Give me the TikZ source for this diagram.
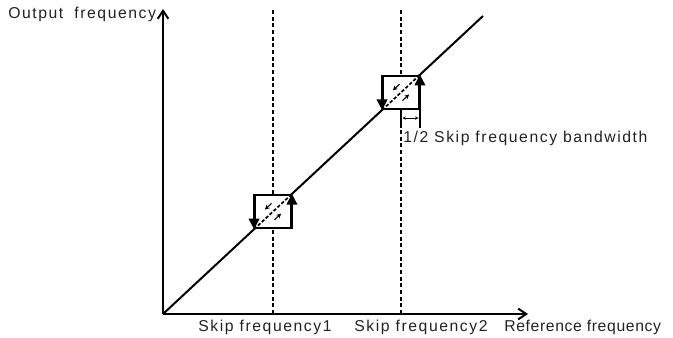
\documentclass[tikz,border=0pt]{standalone}
\usepackage{fontspec}
\setmainfont{Liberation Sans}[LetterSpace=10]
\usepackage{xcolor}
\usepackage{tikz}
\usetikzlibrary{calc,arrows.meta,positioning}
\definecolor{txtgray}{RGB}{34,34,34}

\begin{document}
\begin{tikzpicture}[x=0.75pt,y=-0.75pt,
    axis/.style={line width=1.5pt,-{Straight Barb[length=6pt,width=8pt]}},
    skipline/.style={line width=1.5pt,dash pattern=on 3pt off 2pt},
    skipbox/.style={draw,line width=1.4pt,fill=white,minimum width=27pt,minimum height=25.1pt,inner sep=0pt},
    edgearrow/.style={line width=1.4pt,-{Triangle[length=8pt,width=8pt]}},
    smallarrow/.style={line width=0.8pt,-{Stealth[length=3.5pt,width=3.5pt]}},
    lbl/.style={inner sep=0pt,text=txtgray,font=\fontsize{11.8}{14}\selectfont}]
    \useasboundingbox (0,0) rectangle (673,338);

    % axes
    \coordinate (O) at (163,314);
    \coordinate (ytop) at (163,9);
    \coordinate (xend) at (528,314);
    \draw[axis] (O) -- (ytop);
    \draw[axis] (O) -- (xend);

    % skip frequency lines
    \coordinate (s1top) at (273,10);
    \coordinate (s1bot) at (273,314);
    \coordinate (s2top) at (401,10);
    \coordinate (s2bot) at (401,314);
    \draw[skipline] (s1top) -- (s1bot);
    \draw[skipline] (s2top) -- (s2bot);

    % output characteristic
    \coordinate (lineend) at (483,16);
    \draw[line width=1.5pt] (O) -- (lineend);

    % skip boxes
    \node[skipbox] (box1) at (273,211.6) {};
    \node[skipbox] (box2) at (401,92.4) {};
    \foreach \b in {box1,box2}{
        \draw[edgearrow] (\b.north west) -- (\b.south west);
        \draw[edgearrow] (\b.south east) -- (\b.north east);
        \draw[line width=1.3pt,dash pattern=on 2.5pt off 1.5pt] (\b.south west) -- (\b.north east);
        \draw[smallarrow] ($(\b.center)+(-1.5,-8.2)$) -- ($(\b.center)+(-8.1,-2)$);
        \draw[smallarrow] ($(\b.center)+(1.5,8.2)$) -- ($(\b.center)+(8.1,2)$);
    }

    % bandwidth marker
    \coordinate (bwL) at ($(box2.south)+(0,18)$);
    \coordinate (bwR) at ($(box2.south east)+(0,18)$);
    \draw[line width=1.4pt] (box2.south) -- (bwL);
    \draw[line width=1.4pt] (box2.south east) -- (bwR);
    \draw[line width=0.5pt,{Stealth[length=2.5pt,width=2.5pt]}-{Stealth[length=2.5pt,width=2.5pt]}]
        ($(box2.south)+(1.5,8)$) -- ($(box2.south east)+(-1.5,8)$);

    % labels
    \node[lbl,anchor=west] (outlbl) at (8,14) {Output\hspace{0.7em}frequency};
    \node[lbl] (sk1lbl) at (265,327) {Skip frequency1};
    \node[lbl] (sk2lbl) at (421,327) {Skip frequency2};
    \node[lbl,anchor=west] (reflbl) at (504,327) {\addfontfeature{LetterSpace=4}Reference frequency};
    \node[lbl,anchor=west] (bwlbl) at (403,138) {1/2 Skip frequency bandwidth};
\end{tikzpicture}
\end{document}
